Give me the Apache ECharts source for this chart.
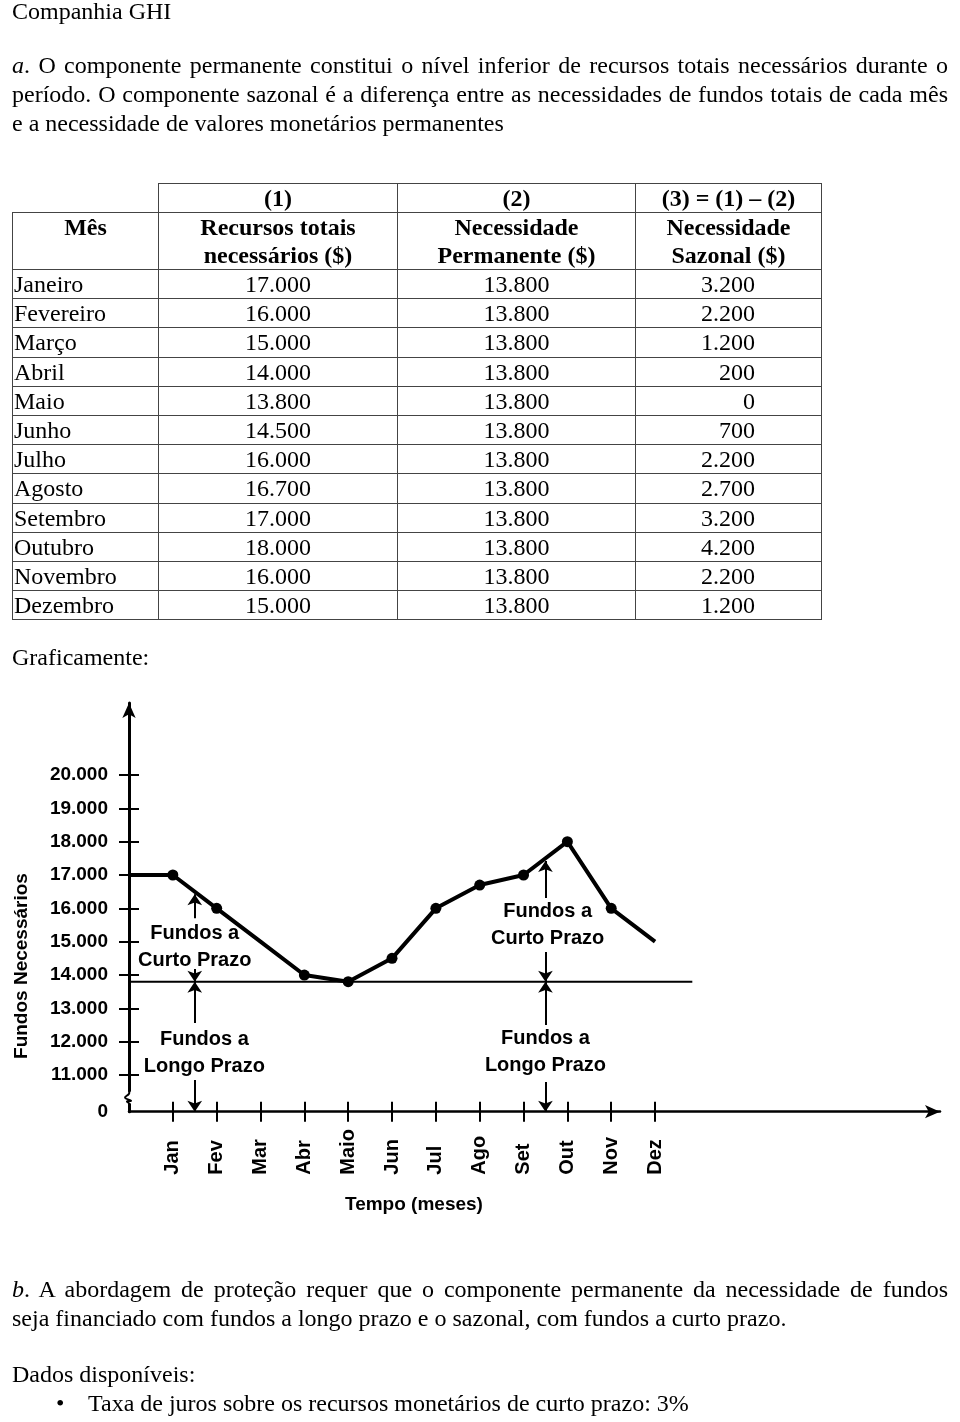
<!DOCTYPE html>
<html lang="pt-BR">
<head>
<meta charset="utf-8">
<script src="https://cdn.jsdelivr.net/npm/echarts@6/dist/echarts.min.js"></script>
<style>
html,body{margin:0;padding:0;background:#fff;}
body{width:960px;height:1422px;position:relative;overflow:hidden;font-family:"Liberation Serif","Times New Roman",serif;font-size:24px;color:#000;}
#chart{position:absolute;left:0;top:0;width:960px;height:1422px;}
.t{position:absolute;left:12px;width:936px;line-height:29px;white-space:nowrap;}
.jl{text-align:justify;text-align-last:justify;white-space:normal;}
#tab{position:absolute;left:12px;top:183px;border-collapse:collapse;table-layout:fixed;}
#tab td{border:1.5px solid #444;padding:0;line-height:28px;font-size:24px;}
#tab td.h{font-weight:bold;text-align:center;vertical-align:top;}
#tab td.m{text-align:left;padding-left:1px;}
#tab td.c{text-align:center;}
#tab td.r{text-align:right;padding-right:66px;}
#tab td.blank{border-top:none;border-left:none;}
</style>
</head>
<body>
<div id="chart"></div>
<div class="t" style="top:-3px">Companhia GHI</div>
<div class="t jl" style="top:51px"><i>a</i>. O componente permanente constitui o nível inferior de recursos totais necessários durante o</div>
<div class="t jl" style="top:80px">período. O componente sazonal é a diferença entre as necessidades de fundos totais de cada mês</div>
<div class="t" style="top:109px">e a necessidade de valores monetários permanentes</div>
<table id="tab"></table>
<div class="t" style="top:643px">Graficamente:</div>
<div class="t jl" style="top:1275px"><i>b</i>. A abordagem de proteção requer que o componente permanente da necessidade de fundos</div>
<div class="t" style="top:1304px">seja financiado com fundos a longo prazo e o sazonal, com fundos a curto prazo.</div>
<div class="t" style="top:1360px">Dados disponíveis:</div>
<div class="t" style="top:1389px;left:56px">•</div>
<div class="t" style="top:1389px;left:88px">Taxa de juros sobre os recursos monetários de curto prazo: 3%</div>
<script>
// ---------- data ----------
const mesesExtenso = ['Janeiro','Fevereiro','Março','Abril','Maio','Junho','Julho','Agosto','Setembro','Outubro','Novembro','Dezembro'];
const meses = ['Jan','Fev','Mar','Abr','Maio','Jun','Jul','Ago','Set','Out','Nov','Dez'];
const recursosTotais = [17000,16000,15000,14000,13800,14500,16000,16700,17000,18000,16000,15000];
const necessidadePermanente = [13800,13800,13800,13800,13800,13800,13800,13800,13800,13800,13800,13800];
const necessidadeSazonal = [3200,2200,1200,200,0,700,2200,2700,3200,4200,2200,1200];
const valorInicial = 17000;
const ticksY = [11000,12000,13000,14000,15000,16000,17000,18000,19000,20000];
const cabecalhoNumeros = ['(1)','(2)','(3) = (1) – (2)'];
const cabecalhoTitulos = ['Recursos totais<br>necessários ($)','Necessidade<br>Permanente ($)','Necessidade<br>Sazonal ($)'];
const anotacaoCurto = 'Fundos a\nCurto Prazo';
const anotacaoLongo = 'Fundos a\nLongo Prazo';
const tituloY = 'Fundos Necessários';
const tituloX = 'Tempo (meses)';

// ---------- table ----------
function fmt(v){return String(v).replace(/\B(?=(\d{3})+(?!\d))/g,'.');}
(function(){
  const tab = document.getElementById('tab');
  const widths = [146,239,238,186];
  let html = '<colgroup>' + widths.map(w=>'<col style="width:'+w+'px">').join('') + '</colgroup>';
  html += '<tr style="height:29px"><td class="blank" style="border-top:none;border-left:none"></td>' + cabecalhoNumeros.map(t=>'<td class="h">'+t+'</td>').join('') + '</tr>';
  html += '<tr style="height:57px"><td class="h">Mês</td>' + cabecalhoTitulos.map(t=>'<td class="h">'+t+'</td>').join('') + '</tr>';
  mesesExtenso.forEach((m,i)=>{
    html += '<tr style="height:29.2px"><td class="m">'+m+'</td><td class="c">'+fmt(recursosTotais[i])+'</td><td class="c">'+fmt(necessidadePermanente[i])+'</td><td class="r">'+fmt(necessidadeSazonal[i])+'</td></tr>';
  });
  tab.innerHTML = html;
})();

// ---------- chart ----------
const chart = echarts.init(document.getElementById('chart'), null, {renderer:'canvas'});
const FONT = '"Liberation Sans", Arial, Helvetica, sans-serif';
const semMarcador = ['Mar','Dez'];
const serieTotal = [{value:[0,valorInicial], symbol:'none'}].concat(
  recursosTotais.map((v,i)=>({value:[i+1,v], symbol: semMarcador.includes(meses[i]) ? 'none' : 'circle'}))
);
const seriePerm = [[0,necessidadePermanente[0]]].concat(necessidadePermanente.map((v,i)=>[i+1,v]));
seriePerm.push([12.85, necessidadePermanente[necessidadePermanente.length-1]]);
const yMin = 9900, yMax = 22160;
function seta(x, y0, y1){ return [{coord:[x,y0]},{coord:[x,y1]}]; }

const option = {
  animation:false,
  backgroundColor:'transparent',
  grid:{left:129, right:20, top:703, bottom:1422-1111.7, containLabel:false},
  xAxis:[{
    type:'value', min:0, max:18.5, position:'bottom',
    axisLine:{show:true, onZero:false, lineStyle:{color:'#000', width:2.5}, symbol:['none','arrow'], symbolSize:[10,15]},
    axisTick:{show:true, inside:false, length:10, customValues:meses.map((m,i)=>i+1), lineStyle:{color:'#000', width:2}},
    axisLabel:{show:true, customValues:meses.map((m,i)=>i+1), formatter:v=>meses[Math.round(v)-1]||'', rotate:90, align:'left', margin:63,
      fontFamily:FONT, fontWeight:'bold', fontSize:20, color:'#000'},
    splitLine:{show:false}
  },{
    type:'value', min:0, max:18.5, position:'bottom',
    axisLine:{show:false, onZero:false},
    axisTick:{show:true, inside:true, length:10, customValues:meses.map((m,i)=>i+1), lineStyle:{color:'#000', width:2}},
    axisLabel:{show:false}, splitLine:{show:false}
  }],
  yAxis:[{
    type:'value', min:yMin, max:yMax, position:'left',
    axisLine:{show:true, onZero:false, lineStyle:{color:'#000', width:3}, symbol:['none','arrow'], symbolSize:[10,15]},
    axisTick:{show:true, inside:false, length:10, customValues:ticksY, lineStyle:{color:'#000', width:2}},
    axisLabel:{show:true, customValues:[yMin].concat(ticksY), formatter:v=>(v===yMin?'0':fmt(v)), margin:21,
      fontFamily:FONT, fontWeight:'bold', fontSize:19, color:'#000'},
    splitLine:{show:false}
  },{
    type:'value', min:yMin, max:yMax, position:'left',
    axisLine:{show:false, onZero:false},
    axisTick:{show:true, inside:true, length:10, customValues:ticksY, lineStyle:{color:'#000', width:2}},
    axisLabel:{show:false}, splitLine:{show:false}
  }],
  series:[
    {
      name:'Necessidade Permanente', type:'line', data:seriePerm, symbol:'none',
      lineStyle:{color:'#000', width:2}, z:2,
      markLine:{
        silent:true, symbol:['none','arrow'], symbolSize:11, precision:0,
        label:{show:false}, lineStyle:{color:'#000', width:2, type:'solid'},
        emphasis:{disabled:true},
        data:[
          seta(1.5,15700,16420), seta(1.5,14180,13800), seta(1.5,12560,13800), seta(1.5,10850,9900),
          seta(9.5,16310,17420), seta(9.5,14690,13800), seta(9.5,12500,13800), seta(9.5,10790,9900)
        ]
      }
    },
    {
      name:'Recursos totais', type:'line', data:serieTotal, symbol:'circle', symbolSize:11,
      lineStyle:{color:'#000', width:4}, itemStyle:{color:'#000'}, z:3
    }
  ]
};
chart.setOption(option);

// axis titles, annotations and axis-break squiggle, placed through the chart's scales
const px = (x,y)=>chart.convertToPixel({gridIndex:0}, [x,y]);
const ax = chart.convertToPixel({xAxisIndex:0}, 0);
const xMid = chart.convertToPixel({xAxisIndex:0}, 6.5);
const yTop = chart.convertToPixel({yAxisIndex:0}, 10500);
const yBot = chart.convertToPixel({yAxisIndex:0}, 10150);
const yTitle = chart.convertToPixel({yAxisIndex:0}, 14270);
const anotacoes = [
  {p:px(1.5,14855), t:anotacaoCurto},
  {p:px(1.72,11676), t:anotacaoLongo},
  {p:px(9.55,15500), t:anotacaoCurto},
  {p:px(9.5,11706), t:anotacaoLongo}
];
chart.setOption({
  graphic:[
    {type:'text', x:22, y:yTitle, rotation:Math.PI/2, style:{text:tituloY, font:'bold 19px '+FONT, fill:'#000', align:'center', verticalAlign:'middle'}},
    {type:'text', x:xMid, y:1205, style:{text:tituloX, font:'bold 19px '+FONT, fill:'#000', align:'center', verticalAlign:'middle'}},
    {type:'rect', shape:{x:ax-4, y:yTop, width:8, height:yBot-yTop}, style:{fill:'#fff'}, z:10},
    {type:'polyline', shape:{points:[[ax,yTop-1],[ax,yTop+2],[ax-4,yTop+6],[ax+2,yTop+9],[ax-2,yBot-2],[ax,yBot],[ax,yBot+1]], smooth:0.4}, style:{stroke:'#000', lineWidth:2, fill:null}, z:11}
  ].concat(anotacoes.map(a=>({type:'text', x:a.p[0], y:a.p[1], z:12,
    style:{text:a.t, font:'bold 20px '+FONT, lineHeight:27, fill:'#000', align:'center', verticalAlign:'middle'}})))
});
</script>
</body>
</html>
